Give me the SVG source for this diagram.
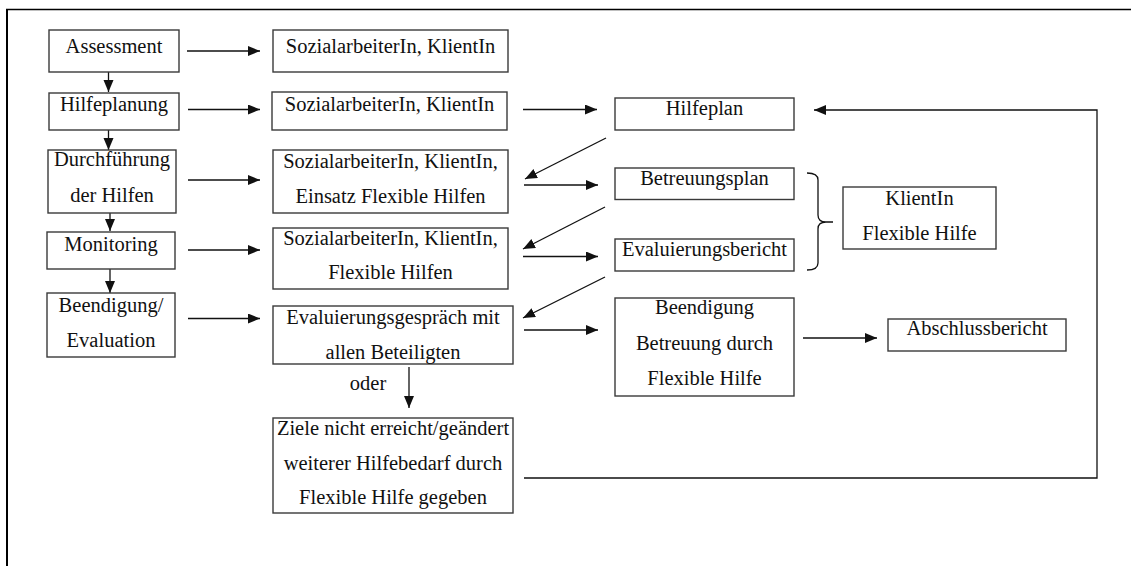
<svg xmlns="http://www.w3.org/2000/svg" width="1131" height="566" viewBox="0 0 1131 566">
<style>
.box{fill:#fff;stroke:#3a3a3a;stroke-width:1.4}
.t{font-family:"Liberation Serif","Times New Roman",serif;font-size:20.5px;fill:#111;text-anchor:middle}
.c{fill:none;stroke:#111;stroke-width:1.3}
.a{marker-end:url(#ah)}
</style>
<defs>
<marker id="ah" markerUnits="userSpaceOnUse" markerWidth="13" markerHeight="11" refX="12" refY="5" orient="auto">
<path d="M0,0 L12,5 L0,10 z" fill="#111"/>
</marker>
</defs>
<rect width="1131" height="566" fill="#fff"/>
<g id="frame">
<line x1="6" y1="9.5" x2="1131" y2="9.5" stroke="#000" stroke-width="1.5"/>
<line x1="7" y1="9" x2="7" y2="566" stroke="#000" stroke-width="2"/>
</g>
<g id="connectors">
<line class="c a" x1="108.5" y1="72" x2="108.5" y2="92"/>
<line class="c a" x1="108.5" y1="130" x2="108.5" y2="150"/>
<line class="c a" x1="110" y1="213" x2="110" y2="231"/>
<line class="c a" x1="110" y1="269" x2="110" y2="293"/>
<line class="c a" x1="187" y1="51" x2="260" y2="51"/>
<line class="c a" x1="188" y1="109.5" x2="260" y2="109.5"/>
<line class="c a" x1="188" y1="180" x2="260" y2="180"/>
<line class="c a" x1="188" y1="250" x2="260" y2="250"/>
<line class="c a" x1="188" y1="318.5" x2="260" y2="318.5"/>
<line class="c a" x1="523" y1="109.5" x2="597" y2="109.5"/>
<line class="c a" x1="524" y1="185" x2="598" y2="185"/>
<line class="c a" x1="523" y1="256.5" x2="598" y2="256.5"/>
<line class="c a" x1="524" y1="330" x2="598" y2="330"/>
<line class="c a" x1="803" y1="338" x2="877" y2="338"/>
<line class="c a" x1="606" y1="138" x2="525" y2="179"/>
<line class="c a" x1="605" y1="207" x2="523" y2="249"/>
<line class="c a" x1="605" y1="277" x2="523" y2="318"/>
<line class="c a" x1="409" y1="367" x2="409" y2="408"/>
<polyline class="c a" points="524,478 1097,478 1097,110 814,110"/>
<path class="c" d="M807,173 Q818,173 818,180 L818,215 Q818,222 826,222 L833,222 M826,222 Q818,222 818,229 L818,263 Q818,270 807,270"/>
</g>
<g id="n-assessment"><rect class="box" x="49" y="30" width="130" height="42"/><text class="t" x="114" y="53">Assessment</text></g>
<g id="n-hilfeplanung"><rect class="box" x="49" y="93" width="130" height="37"/><text class="t" x="114" y="111">Hilfeplanung</text></g>
<g id="n-durchfuehrung"><rect class="box" x="48" y="150" width="128" height="63"/><text class="t" x="112" y="166">Durchführung</text><text class="t" x="112" y="201.5">der Hilfen</text></g>
<g id="n-monitoring"><rect class="box" x="47" y="232" width="128" height="37"/><text class="t" x="111" y="251">Monitoring</text></g>
<g id="n-beendigung"><rect class="box" x="47" y="293" width="128" height="64"/><text class="t" x="111" y="312">Beendigung/</text><text class="t" x="111" y="347">Evaluation</text></g>
<g id="n-m1"><rect class="box" x="273" y="30" width="235" height="42"/><text class="t" x="390.5" y="53">SozialarbeiterIn, KlientIn</text></g>
<g id="n-m2"><rect class="box" x="272" y="92" width="235" height="38"/><text class="t" x="389.5" y="111">SozialarbeiterIn, KlientIn</text></g>
<g id="n-m3"><rect class="box" x="273" y="150" width="235" height="63"/><text class="t" x="390.5" y="168">SozialarbeiterIn, KlientIn,</text><text class="t" x="390.5" y="203">Einsatz Flexible Hilfen</text></g>
<g id="n-m4"><rect class="box" x="273" y="228" width="235" height="61"/><text class="t" x="390.5" y="244.5">SozialarbeiterIn, KlientIn,</text><text class="t" x="390.5" y="279">Flexible Hilfen</text></g>
<g id="n-m5"><rect class="box" x="273" y="306" width="240" height="58"/><text class="t" x="393" y="323.5">Evaluierungsgespräch mit</text><text class="t" x="393" y="358.5">allen Beteiligten</text></g>
<g id="l-oder"><text class="t" x="368" y="390">oder</text></g>
<g id="n-m6"><rect class="box" x="273" y="418" width="240" height="95"/><text class="t" x="393" y="435">Ziele nicht erreicht/geändert</text><text class="t" x="393" y="470">weiterer Hilfebedarf durch</text><text class="t" x="393" y="504">Flexible Hilfe gegeben</text></g>
<g id="n-hilfeplan"><rect class="box" x="615" y="98" width="179" height="32"/><text class="t" x="704.5" y="115">Hilfeplan</text></g>
<g id="n-betreuungsplan"><rect class="box" x="615" y="168" width="179" height="31.5"/><text class="t" x="704.5" y="184.5">Betreuungsplan</text></g>
<g id="n-evalbericht"><rect class="box" x="615" y="239" width="179" height="32"/><text class="t" x="704.5" y="256">Evaluierungsbericht</text></g>
<g id="n-beendigung-betreuung"><rect class="box" x="615" y="298" width="179" height="98"/><text class="t" x="704.5" y="314">Beendigung</text><text class="t" x="704.5" y="350">Betreuung durch</text><text class="t" x="704.5" y="385">Flexible Hilfe</text></g>
<g id="n-klientin"><rect class="box" x="843" y="187" width="153" height="62"/><text class="t" x="919.5" y="205">KlientIn</text><text class="t" x="919.5" y="240">Flexible Hilfe</text></g>
<g id="n-abschluss"><rect class="box" x="888" y="319" width="178" height="32"/><text class="t" x="977" y="335">Abschlussbericht</text></g>
</svg>
